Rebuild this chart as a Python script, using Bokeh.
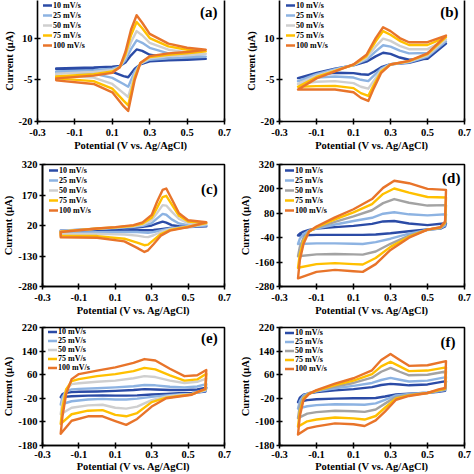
from bokeh.plotting import figure
from bokeh.layouts import column, row
from bokeh.models import (FixedTicker, NumeralTickFormatter, Legend, LegendItem,
                          LinearAxis, Label, Range1d)
from bokeh.embed import file_html
from bokeh.resources import INLINE

FONT = "Liberation Serif"

rates = ["10 mV/s", "25 mV/s", "50 mV/s", "75 mV/s", "100 mV/s"]
colors_light = ["#2B4BA6", "#8DB3E2", "#CFCFCF", "#FFC000", "#E8742A"]
colors_dark = ["#2B4BA6", "#8DB3E2", "#A3A3A3", "#FFC000", "#E8742A"]
x_ticks = [-0.3, -0.1, 0.1, 0.3, 0.5, 0.7]

# ---------------- panel (a) ----------------
a_E_fwd = [-0.2, 0.0, 0.1, 0.14, 0.17, 0.2, 0.23, 0.26, 0.3, 0.4, 0.5, 0.6]
a_E_rev = [0.6, 0.5, 0.4, 0.3, 0.25, 0.22, 0.185, 0.16, 0.1, 0.0, -0.2]
a_fwd = [
    [-0.9, -0.6, -0.3, 0.0, 1.2, 3.8, 5.9, 5.4, 4.0, 2.9, 2.6, 2.5],
    [-2.0, -1.6, -1.0, -0.3, 2.0, 6.0, 9.2, 8.3, 6.5, 4.5, 3.7, 3.3],
    [-2.8, -2.2, -1.5, -0.5, 3.0, 8.5, 12.5, 11.0, 8.3, 5.8, 4.8, 4.3],
    [-3.8, -3.0, -2.0, -0.5, 4.0, 11.0, 15.8, 13.5, 10.0, 7.0, 5.8, 5.2],
    [-4.5, -3.5, -2.5, -0.5, 5.0, 13.0, 18.2, 15.5, 11.5, 8.0, 6.5, 5.8],
]
a_rev = [
    [2.5, 2.2, 2.0, 1.6, 0.5, -1.0, -4.1, -3.7, -2.2, -1.3, -1.1],
    [3.3, 3.0, 2.7, 2.2, 0.8, -2.0, -7.5, -6.5, -4.3, -2.8, -2.4],
    [4.3, 3.8, 3.4, 2.7, 0.8, -3.0, -11.2, -9.8, -6.5, -4.2, -3.5],
    [5.2, 4.5, 4.0, 3.2, 1.0, -4.0, -14.2, -12.5, -8.2, -5.5, -4.5],
    [5.8, 5.0, 4.5, 3.5, 1.0, -5.0, -16.2, -14.5, -9.5, -6.5, -5.2],
]
a_yticks = [-20, -5, 10, 25]

# ---------------- panel (b) ----------------
b_E_fwd = [-0.2, -0.1, 0.0, 0.1, 0.17, 0.22, 0.26, 0.3, 0.35, 0.4, 0.5, 0.6]
b_E_rev = [0.6, 0.5, 0.4, 0.3, 0.25, 0.21, 0.18, 0.14, 0.1, 0.0, -0.1, -0.2]
b_fwd = [
    [-4.4, -2.5, -1.0, 0.2, 1.5, 3.4, 4.7, 4.3, 3.0, 2.2, 2.5, 8.0],
    [-5.5, -3.0, -1.2, 0.3, 2.2, 5.2, 7.4, 6.9, 5.5, 4.5, 4.6, 8.8],
    [-6.5, -3.5, -1.5, 0.3, 2.8, 7.0, 9.8, 9.0, 7.2, 6.0, 6.0, 9.5],
    [-7.5, -4.0, -1.8, 0.4, 3.5, 8.8, 12.5, 11.2, 9.0, 7.5, 7.5, 10.3],
    [-8.5, -4.5, -2.0, 0.5, 4.0, 10.0, 13.9, 12.5, 10.0, 8.5, 8.5, 10.9],
]
b_rev = [
    [8.0, 2.8, 1.1, 0.6, -0.5, -2.1, -3.2, -3.0, -2.6, -2.5, -3.1, -4.4],
    [8.8, 3.3, 1.3, 0.6, -1.0, -3.5, -5.5, -5.0, -4.2, -3.8, -4.2, -5.5],
    [9.5, 3.8, 1.5, 0.6, -1.5, -5.3, -8.2, -7.5, -6.2, -5.5, -5.7, -6.5],
    [10.3, 4.2, 1.7, 0.5, -2.0, -6.8, -10.8, -9.8, -8.0, -7.2, -7.3, -7.5],
    [10.9, 4.5, 1.8, 0.5, -2.5, -8.0, -12.6, -11.5, -9.5, -8.5, -8.5, -8.5],
]
b_yticks = [-20, -5, 10, 25]

# ---------------- panel (c) ----------------
c_E_fwd = [-0.2, 0.0, 0.1, 0.2, 0.25, 0.3, 0.33, 0.36, 0.38, 0.41, 0.45, 0.5, 0.6]
c_E_rev = [0.6, 0.5, 0.4, 0.35, 0.31, 0.28, 0.26, 0.22, 0.15, 0.0, -0.2]
c_fwd = [
    [-5, 2, 6, 10, 13, 20, 30, 39, 34, 22, 17, 15, 16],
    [-6, 4, 8, 13, 18, 32, 55, 77, 73, 50, 30, 22, 20],
    [-8, 4, 10, 16, 24, 45, 82, 120, 118, 88, 52, 32, 26],
    [-10, 5, 11, 19, 30, 58, 108, 160, 166, 124, 68, 40, 32],
    [-12, 5, 12, 22, 35, 72, 138, 195, 202, 150, 80, 46, 36],
]
c_rev = [
    [16, 12, 8, 2, -2, -3, -3, -2, -4, -6, -8],
    [20, 13, 6, -4, -12, -16, -15, -12, -12, -13, -15],
    [26, 14, 2, -12, -28, -37, -36, -30, -24, -21, -22],
    [32, 14, -2, -22, -52, -74, -77, -64, -45, -32, -30],
    [36, 12, -5, -30, -72, -102, -110, -90, -58, -40, -38],
]
c_yticks = [-280, -130, 20, 170, 320]

# ---------------- panel (d) ----------------
d_E_fwd = [-0.2, -0.19, -0.17, -0.14, -0.1, 0.0, 0.1, 0.2, 0.26, 0.32, 0.4, 0.5, 0.6]
d_E_rev = [0.6, 0.595, 0.57, 0.5, 0.4, 0.3, 0.22, 0.15, 0.1, 0.0, -0.1, -0.2]
d_fwd = [
    [-29, -20, -10, -2, 5, 12, 18, 28, 40, 42, 30, 22, 31],
    [-71, -45, -22, -5, 5, 25, 42, 58, 78, 85, 75, 70, 75],
    [-131, -85, -40, -8, 8, 38, 65, 95, 130, 150, 132, 118, 120],
    [-188, -120, -55, -10, 12, 50, 85, 125, 175, 202, 182, 160, 158],
    [-240, -150, -70, -10, 15, 60, 100, 150, 205, 240, 228, 200, 195],
]
d_rev = [
    [31, 15, 5, 0, -8, -18, -24, -26, -26, -26, -26, -29],
    [75, 20, 6, -2, -20, -45, -62, -71, -70, -68, -68, -71],
    [120, 28, 8, 0, -30, -70, -108, -123, -122, -120, -122, -131],
    [158, 35, 10, 0, -35, -85, -140, -172, -170, -165, -170, -188],
    [195, 40, 12, 0, -40, -100, -170, -208, -205, -198, -208, -240],
]
d_yticks = [-280, -160, -40, 80, 200, 320]

# ---------------- panel (e) ----------------
e_E_fwd = [-0.2, -0.19, -0.17, -0.14, -0.1, 0.0, 0.1, 0.2, 0.26, 0.32, 0.4, 0.48, 0.55, 0.6]
e_E_rev = [0.6, 0.595, 0.57, 0.52, 0.45, 0.38, 0.3, 0.22, 0.16, 0.1, 0.03, -0.05, -0.14, -0.2]
e_fwd = [
    [-16, -6, -1, 1, 2, 3, 5, 8, 11, 10, 8, 8, 10, 16],
    [-41, -15, 3, 10, 12, 14, 17, 21, 25, 24, 19, 17, 20, 28],
    [-74, -30, 10, 28, 31, 36, 40, 48, 55, 52, 40, 32, 36, 47],
    [-107, -50, 10, 38, 45, 55, 62, 72, 83, 78, 58, 40, 44, 63],
    [-140, -80, -5, 45, 62, 74, 85, 100, 113, 108, 80, 55, 58, 76],
]
e_rev = [
    [16, 3, 1, -2, -3, -5, -7, -10, -11, -11, -10, -11, -13, -16],
    [28, 5, 2, -5, -7, -10, -15, -21, -24, -24, -22, -24, -30, -41],
    [47, 8, 4, -6, -9, -14, -26, -48, -55, -52, -42, -44, -52, -74],
    [63, 10, 5, -7, -12, -18, -33, -70, -81, -76, -60, -62, -74, -107],
    [76, 12, 6, -8, -14, -20, -48, -90, -110, -97, -81, -81, -96, -140],
]
e_yticks = [-180, -100, -20, 60, 140, 220]

# ---------------- panel (f) ----------------
f_E_fwd = [-0.2, -0.19, -0.17, -0.14, -0.1, 0.0, 0.1, 0.2, 0.25, 0.3, 0.35, 0.4, 0.5, 0.6]
f_E_rev = [0.6, 0.595, 0.56, 0.5, 0.4, 0.33, 0.27, 0.22, 0.16, 0.1, 0.0, -0.1, -0.15, -0.2]
f_fwd = [
    [-33, -18, -8, -3, 1, 7, 11, 18, 25, 29, 27, 24, 27, 38],
    [-55, -30, -10, -2, 4, 14, 22, 32, 42, 49, 43, 37, 40, 52],
    [-87, -45, -15, -3, 5, 20, 32, 50, 70, 83, 70, 58, 60, 71],
    [-116, -65, -20, -4, 6, 25, 40, 62, 88, 104, 88, 72, 74, 85],
    [-143, -80, -25, -5, 8, 30, 48, 75, 110, 130, 110, 90, 92, 106],
]
f_rev = [
    [38, 5, 2, -1, -4, -7, -14, -19, -20, -20, -21, -23, -26, -33],
    [52, 8, 4, -1, -5, -10, -25, -37, -42, -41, -40, -43, -47, -55],
    [71, 10, 6, -2, -8, -15, -38, -58, -66, -64, -62, -67, -72, -87],
    [85, 12, 8, -2, -10, -20, -52, -80, -92, -88, -85, -92, -98, -116],
    [106, 15, 10, -2, -12, -25, -65, -95, -114, -108, -105, -115, -122, -143],
]
f_yticks = [-180, -100, -20, 60, 140, 220]


def style_axis(ax, label_size="10.5px"):
    ax.axis_line_width = 1.6
    ax.axis_line_color = "black"
    ax.major_tick_line_width = 1.5
    ax.major_tick_line_color = "black"
    ax.major_tick_in = 3
    ax.major_tick_out = 3
    ax.minor_tick_line_color = None
    ax.major_label_text_font = FONT
    ax.major_label_text_font_style = "bold"
    ax.major_label_text_font_size = label_size
    ax.major_label_text_color = "black"
    ax.axis_label_text_font = FONT
    ax.axis_label_text_font_style = "bold"
    ax.axis_label_text_font_size = "10.5px"
    ax.axis_label_text_color = "black"


def make_panel(letter, E_f, E_r, fwd, rev, yticks, yrange, colors, width, height,
               borders, top_row, bottom_row, leg_loc, leg_h, letter_xy):
    p = figure(width=width, height=height, x_range=Range1d(-0.3, 0.7),
               y_range=Range1d(*yrange), output_backend="svg", toolbar_location=None,
               min_border_left=borders[0], min_border_right=borders[1],
               min_border_top=borders[2], min_border_bottom=borders[3])
    p.grid.visible = False
    p.background_fill_color = "white"
    p.border_fill_color = "white"

    p.xaxis.ticker = FixedTicker(ticks=x_ticks)
    p.xaxis.formatter = NumeralTickFormatter(format="0.0")
    p.yaxis.ticker = FixedTicker(ticks=yticks)
    p.yaxis.formatter = NumeralTickFormatter(format="0")
    for ax in list(p.xaxis) + list(p.yaxis):
        style_axis(ax)
    p.yaxis.axis_label = "Current (μA)"
    p.yaxis.axis_label_standoff = 1
    p.yaxis.major_label_standoff = 2
    p.xaxis.axis_label = "Potential (V vs. Ag/AgCl)"
    if bottom_row:
        p.xaxis.major_label_standoff = 2
        p.xaxis.axis_label_standoff = 0
    else:
        p.xaxis.major_label_standoff = 4
        p.xaxis.axis_label_standoff = 1

    if top_row:
        p.outline_line_color = None
        ra = LinearAxis(ticker=FixedTicker(ticks=[]), axis_line_width=1.6,
                        axis_line_color="black", major_tick_in=0, major_tick_out=0,
                        major_label_standoff=0)
        p.add_layout(ra, "right")
    else:
        p.outline_line_color = "black"
        p.outline_line_width = 1.6
        p.outline_line_alpha = 1.0

    items = []
    for i in range(5):
        xs = E_f + E_r + [E_f[0]]
        ys = fwd[i] + rev[i] + [fwd[i][0]]
        r = p.line(xs, ys, line_color=colors[i], line_width=2.4,
                   line_join="round", line_cap="round")
        items.append(LegendItem(label=rates[i], renderers=[r]))

    leg = Legend(items=items, location=leg_loc, orientation="vertical",
                 label_text_font=FONT, label_text_font_style="bold",
                 label_text_font_size="8px", label_text_color="black",
                 glyph_width=9, glyph_height=leg_h, label_height=leg_h,
                 label_standoff=1, spacing=0, padding=0, margin=0,
                 background_fill_alpha=0, border_line_alpha=0)
    p.add_layout(leg)

    p.add_layout(Label(x=letter_xy[0], y=letter_xy[1], text=letter,
                       text_font=FONT, text_font_style="bold",
                       text_font_size="15px", text_align="right",
                       text_baseline="middle", text_color="black"))
    return p


W = 237
pa = make_panel("(a)", a_E_fwd, a_E_rev, a_fwd, a_rev, a_yticks, (-20, 23.5), colors_light,
                W, 155, (36, 13, 0, 34), True, False, (6, 71), 10, (0.663, 19.2))
pb = make_panel("(b)", b_E_fwd, b_E_rev, b_fwd, b_rev, b_yticks, (-20, 23.5), colors_light,
                W, 155, (42, 10, 0, 34), True, False, (7, 71), 10, (0.668, 19.2))
pc = make_panel("(c)", c_E_fwd, c_E_rev, c_fwd, c_rev, c_yticks, (-280, 320), colors_light,
                W, 163, (36, 13, 9, 31), False, False, (7, 71), 10, (0.663, 201))
pd = make_panel("(d)", d_E_fwd, d_E_rev, d_fwd, d_rev, d_yticks, (-280, 320), colors_dark,
                W, 163, (42, 10, 9, 31), False, False, (6, 71), 10, (0.678, 253))
pe = make_panel("(e)", e_E_fwd, e_E_rev, e_fwd, e_rev, e_yticks, (-180, 220), colors_light,
                W, 156, (36, 13, 9, 29), False, True, (6, 73), 9, (0.663, 183))
pf = make_panel("(f)", f_E_fwd, f_E_rev, f_fwd, f_rev, f_yticks, (-180, 220), colors_dark,
                W, 156, (42, 10, 9, 29), False, True, (6, 72), 9, (0.651, 172))

layout = column(row(pa, pb), row(pc, pd), row(pe, pf))
open("out.html", "w").write(file_html(layout, INLINE))
